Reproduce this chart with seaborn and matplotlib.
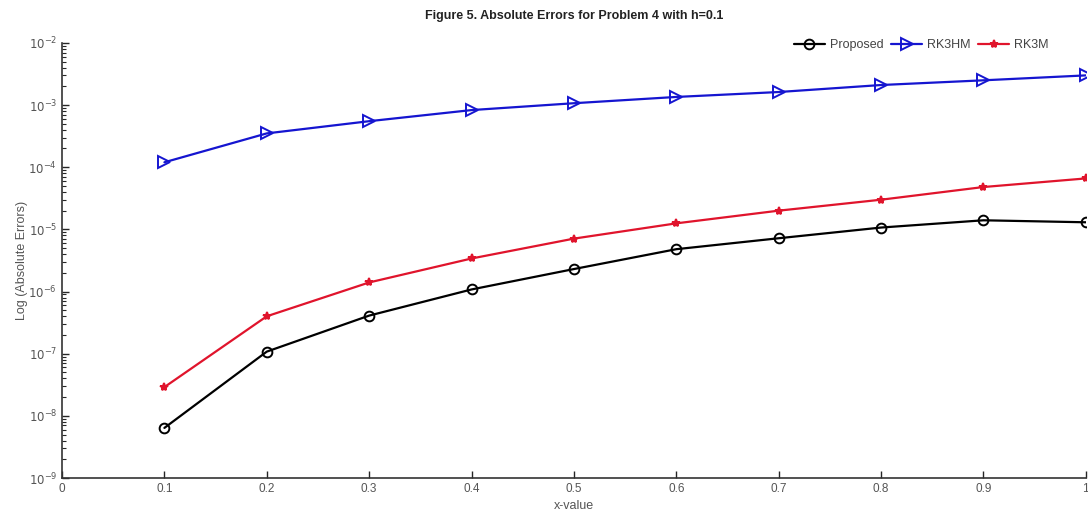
import numpy as np
import pandas as pd
import matplotlib
matplotlib.use("Agg")
import matplotlib.pyplot as plt
import seaborn as sns
from matplotlib.ticker import LogLocator, FixedLocator, NullFormatter
from matplotlib.lines import Line2D

x_values = [0.1, 0.2, 0.3, 0.4, 0.5, 0.6, 0.7, 0.8, 0.9, 1.0]
proposed = [6.4e-9, 1.08e-7, 4.1e-7, 1.08e-6, 2.3e-6, 4.8e-6, 7.2e-6, 1.07e-5, 1.4e-5, 1.3e-5]
rk3hm = [1.2e-4, 3.5e-4, 5.5e-4, 8.3e-4, 1.07e-3, 1.35e-3, 1.62e-3, 2.1e-3, 2.5e-3, 3.0e-3]
rk3m = [2.9e-8, 4.0e-7, 1.4e-6, 3.4e-6, 7.1e-6, 1.25e-5, 2.0e-5, 3.0e-5, 4.8e-5, 6.6e-5]
series_names = ["Proposed", "RK3HM", "RK3M"]
x_ticks = [0, 0.1, 0.2, 0.3, 0.4, 0.5, 0.6, 0.7, 0.8, 0.9, 1]
x_tick_labels = ["0", "0.1", "0.2", "0.3", "0.4", "0.5", "0.6", "0.7", "0.8", "0.9", "1"]

df = pd.DataFrame({
    "x": x_values * 3,
    "err": proposed + rk3hm + rk3m,
    "method": sum([[n] * len(x_values) for n in series_names], []),
})

sns.set_style("white")
plt.rcParams["font.family"] = ["Liberation Sans", "DejaVu Sans"]

fig = plt.figure(figsize=(10.88, 5.23), dpi=100)
ax = fig.add_axes([0.057, 0.086, 0.941, 0.832])

palette = {"Proposed": "black", "RK3HM": "#1515d0", "RK3M": "#e0142c"}
marker_map = {"Proposed": "o", "RK3HM": ">", "RK3M": "*"}
msize = {"Proposed": 7, "RK3HM": 8.5, "RK3M": 6}
mface = {"Proposed": "none", "RK3HM": "none", "RK3M": "#e0142c"}

sns.lineplot(data=df, x="x", y="err", hue="method", style="method",
             palette=palette, markers=marker_map, dashes=False, ax=ax,
             linewidth=1.6, legend=False)

legend_handles = []
lines = [l for l in ax.get_lines() if len(l.get_xdata()) > 0]
for name, line in zip(series_names, lines):
    c = palette[name]
    line.set_color(c)
    line.set_linestyle("-")
    line.set_marker(marker_map[name])
    line.set_markersize(msize[name])
    line.set_markerfacecolor(mface[name])
    line.set_markeredgecolor(c)
    line.set_markeredgewidth(1.4)
    legend_handles.append(Line2D([], [], color=c, linestyle="-", linewidth=1.6,
                                 marker=marker_map[name], markersize=msize[name],
                                 markerfacecolor=mface[name], markeredgecolor=c,
                                 markeredgewidth=1.4))

ax.set_yscale("log")
ax.set_xlim(0, 1)
ax.set_ylim(1e-9, 1e-2)
ax.yaxis.set_major_locator(FixedLocator([10.0**k for k in range(-9, -1)]))
ax.yaxis.set_minor_locator(LogLocator(base=10, subs=np.arange(2, 10)))
ax.yaxis.set_minor_formatter(NullFormatter())
ax.set_yticklabels([r"$10^{%d}$" % k for k in range(-9, -1)])
ax.set_xticks(x_ticks)
ax.set_xticklabels(x_tick_labels)
ax.tick_params(axis="both", which="major", direction="in", length=5, width=1,
               labelsize=8.5, labelcolor="#555555", left=True, bottom=True)
ax.tick_params(axis="y", which="minor", direction="in", length=3, width=0.8, left=True)

for s in ["top", "right"]:
    ax.spines[s].set_visible(False)
for s in ["left", "bottom"]:
    ax.spines[s].set_color("#333333")
    ax.spines[s].set_linewidth(1.2)

ax.set_xlabel("x-value", fontsize=9, color="#555555", labelpad=4)
ax.set_ylabel("Log (Absolute Errors)", fontsize=9, color="#555555", labelpad=0)
ax.set_title("Figure 5. Absolute Errors for Problem 4 with h=0.1", fontsize=9,
             fontweight="bold", color="#222222", pad=17)

leg = ax.legend(legend_handles, series_names, loc="upper right",
                bbox_to_anchor=(0.975, 1.035), ncol=3, frameon=False, fontsize=9,
                handlelength=2.5, columnspacing=0.6, handletextpad=0.4)
for t in leg.get_texts():
    t.set_color("#444444")

fig.savefig("out.png", dpi=100, facecolor="white")
